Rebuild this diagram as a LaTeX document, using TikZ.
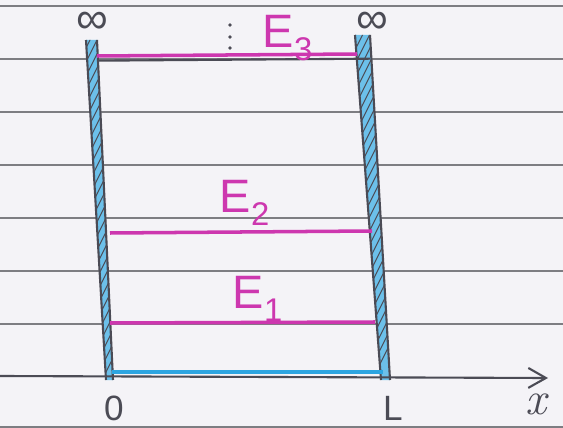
\documentclass[tikz,border=0pt]{standalone}
\usepackage{fontspec}
\setmainfont{Liberation Sans}
\newcommand{\lmitalic}{\fontfamily{lmr}\selectfont\itshape}
\usepackage{tikz}
\usetikzlibrary{arrows.meta}
\definecolor{paperbg}{RGB}{244,243,247}
\definecolor{paperline}{RGB}{125,125,130}
\definecolor{inkpink}{RGB}{205,55,175}
\definecolor{inkblue}{RGB}{45,165,225}
\definecolor{pencil}{RGB}{75,75,85}

\begin{document}
\begin{tikzpicture}[x=0.03cm, y=-0.03cm,
  ruling/.style={draw=paperline, line width=1.2pt},
  level/.style={draw=inkpink, line width=3pt},
  pencilline/.style={draw=pencil, line width=1.8pt},
  hatch/.style={draw=pencil, line width=0.9pt},
  energy/.style={text=inkpink, font=\fontsize{40}{42}\selectfont},
  axislbl/.style={text=pencil, font=\fontsize{30}{32}\selectfont},
  inflbl/.style={text=pencil, font=\fontsize{38}{40}\selectfont, anchor=base,
    inner sep=0pt, text height=0.6em, text depth=0pt}]
  % paper
  \fill[paperbg] (0,0) rectangle (563,428);
  \useasboundingbox (0,0) rectangle (563,428);
  % ruled lines of the notebook
  \foreach \y in {6, 59, 112, 165, 218, 271, 324, 427} {
    \draw[ruling] (0,\y) -- (563,\y);
  }
  % corners of the two walls
  \coordinate (lwo) at (86,40);  \coordinate (lwi) at (97,40);
  \coordinate (lbo) at (106,380); \coordinate (lbi) at (113,380);
  \coordinate (rwi) at (355,35); \coordinate (rwo) at (370,35);
  \coordinate (rbi) at (381,380); \coordinate (rbo) at (390,380);
  % walls: blue with pencil hatching
  \fill[inkblue!70] (lwo) -- (lwi) -- (lbi) -- (lbo) -- cycle;
  \fill[inkblue!70] (rwi) -- (rwo) -- (rbo) -- (rbi) -- cycle;
  \begin{scope}
    \clip (lwo) -- (lwi) -- (lbi) -- (lbo) -- cycle;
    \foreach \t in {30, 44, ..., 420} {
      \draw[hatch] (80,\t+16) -- (120,\t-64);
    }
  \end{scope}
  \begin{scope}
    \clip (rwi) -- (rwo) -- (rbo) -- (rbi) -- cycle;
    \foreach \t in {30, 44, ..., 420} {
      \draw[hatch] (350,\t+16) -- (395,\t-74);
    }
  \end{scope}
  \draw[pencilline] (lwo) -- (lbo);
  \draw[pencilline] (lwi) -- (lbi);
  \draw[pencilline] (rwi) -- (rbi);
  \draw[pencilline] (rwo) -- (rbo);
  % x axis and bottom of the well
  \coordinate (ax0) at (0,376);
  \coordinate (ax1) at (548,378);
  \draw[pencilline, -{Straight Barb[length=15pt, width=17pt]}] (ax0) -- (ax1);
  \coordinate (b0) at (112,372);
  \coordinate (b1) at (383,372);
  \draw[draw=inkblue, line width=4pt] (b0) -- (b1);
  % energy levels
  \coordinate (e3a) at (97,56);  \coordinate (e3b) at (357,54);
  \coordinate (e2a) at (110,233); \coordinate (e2b) at (372,231);
  \coordinate (e1a) at (110,323); \coordinate (e1b) at (375,322);
  \draw[pencilline] ([yshift=-4]e3a) -- ([yshift=-4]e3b -| rwo);
  \draw[level] (e3a) -- (e3b);
  \draw[level] (e2a) -- (e2b);
  \draw[level] (e1a) -- (e1b);
  \node[energy] (E3) at (288,38) {E\textsubscript{3}};
  \node[energy] (E2) at (245,203) {E\textsubscript{2}};
  \node[energy] (E1) at (258,299) {E\textsubscript{1}};
  % higher levels continue
  \foreach \y in {25, 37, 48} {
    \fill[pencil] (230,\y) circle (1.8);
  }
  % labels
  \node[inflbl] (inf0) at (92,34) {∞};
  \node[inflbl] (infL) at (372,34) {∞};
  \node[axislbl] (lbl0) at (114,408) {0};
  \node[axislbl] (lblL) at (393,408) {L};
  \node[axislbl, font=\fontsize{40}{42}\lmitalic] (lblx) at (536,404) {x};
\end{tikzpicture}
\end{document}
